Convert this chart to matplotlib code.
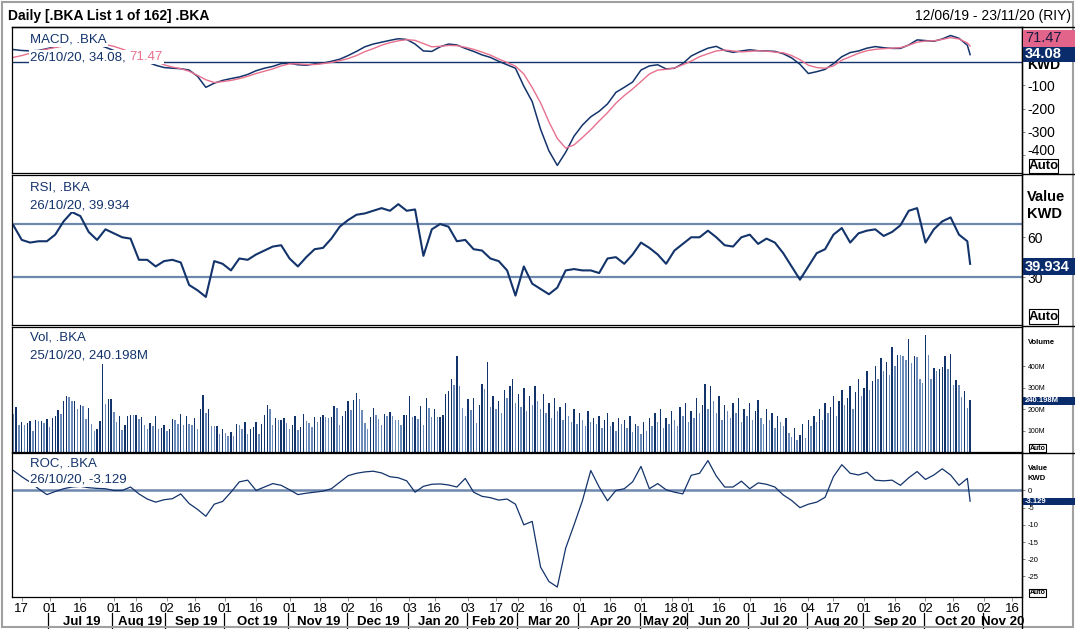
import numpy as np
import pandas as pd
import matplotlib
matplotlib.use("Agg")
import matplotlib.pyplot as plt
import matplotlib.transforms as mtrans
from matplotlib.patches import Rectangle
from matplotlib.lines import Line2D

plt.rcParams["font.family"] = ["Liberation Sans", "DejaVu Sans"]
plt.rcParams["axes.unicode_minus"] = False

# trading calendar (vendor dates, Mon-Fri) with market holidays
holidays = ["2019-08-13", "2019-08-14", "2019-08-15", "2020-01-01", "2020-01-02",
            "2020-02-26", "2020-02-27", "2020-05-25", "2020-05-26", "2020-05-27",
            "2020-05-28", "2020-07-30", "2020-07-31", "2020-08-03", "2020-10-01"]
days = pd.bdate_range("2019-06-12", "2020-11-30", freq="C", holidays=holidays)

# MACD / signal, RSI, ROC sampled every 3 trading days (+ last day)
macd = [56, 52, 50, 52, 60, 68, 75, 82, 86, 86, 78, 66, 52, 38, 24, 12, 2, -12, -22, -25,
        -27, -33, -60, -108, -90, -78, -70, -63, -52, -36, -25, -17, -5, -3, -10, -12, -6, -3, 5, 14,
        30, 48, 68, 80, 88, 96, 103, 100, 80, 50, 48, 68, 80, 76, 61, 48, 33, 22, 5, -10,
        -25, -103, -170, -290, -384, -447, -390, -320, -272, -236, -212, -180, -130, -108, -85, -33, -15, -10, -28, -25,
        -5, 28, 46, 62, 70, 52, 44, 50, 55, 51, 50, 48, 38, 20, -8, -48, -40, -30, -5, 25,
        43, 50, 62, 69, 64, 61, 61, 76, 98, 95, 92, 102, 117, 105, 75, 34.08]
signal = [22, 30, 40, 50, 58, 65, 71, 76, 80, 82, 82, 78, 70, 58, 45, 30, 18, 5, -10, -20,
          -27, -38, -56, -75, -87, -83, -78, -70, -60, -48, -38, -28, -15, -6, -6, -9, -9, -5, 0, 8,
          17, 30, 47, 60, 75, 86, 94, 99, 96, 82, 68, 70, 74, 73, 66, 57, 45, 32, 15, 0,
          -16, -50, -109, -175, -258, -330, -372, -358, -326, -292, -254, -218, -177, -144, -115, -83, -50, -33, -30, -24,
          -10, 6, 25, 38, 50, 54, 50, 46, 48, 51, 49, 45, 42, 30, 12, -12, -22, -25, -15, 10,
          25, 40, 51, 57, 60, 62, 64, 75, 88, 93, 94, 100, 108, 102, 85, 71.47]
rsi = [69, 58, 56, 57, 57, 62, 72, 79, 76, 64, 58, 66, 63, 60, 59, 43, 43, 38, 42, 43,
       41, 24, 20, 15, 42, 40, 35, 44, 43, 47, 50, 53, 54, 44, 38, 45, 51, 52, 59, 68,
       73, 77, 78, 80, 82, 80, 85, 80, 81, 46, 66, 70, 68, 57, 58, 51, 50, 44, 42, 35,
       16, 38, 25, 21, 17, 22, 35, 36, 35, 35, 33, 44, 45, 40, 47, 56, 52, 47, 40, 50,
       55, 60, 60, 65, 60, 54, 53, 60, 62, 55, 59, 56, 48, 38, 28, 38, 48, 51, 62, 67,
       56, 63, 65, 66, 61, 64, 69, 80, 82, 56, 66, 72, 75, 62, 57, 39.934]
roc = [5.8, 4.0, 2.4, 0.5, -1.2, -0.3, 0.5, 1.0, 1.2, 0.8, 0.6, 0.5, 0.0, 0.0, 1.0, -1.0, -2.5, -3.4, -2.7, -2.4,
       -1.0, -3.8, -5.5, -7.5, -4.0, -3.2, -0.5, 2.5, 3.0, 0.0, 1.0, 2.0, 1.5, 0.2, -1.2, -0.8, -0.5, -0.2, 0.5, 2.4,
       4.3, 5.0, 5.4, 5.6, 5.1, 4.0, 3.7, 2.8, -0.5, 1.2, 1.8, 1.9, 1.6, 1.0, 3.5, -0.5, -1.7, -2.1, -2.8, -2.5,
       -4.0, -10.0, -9.0, -22.3, -26.5, -28.1, -16.8, -10.0, -3.0, 5.8, 1.0, -3.0, 0.0, 0.5, 2.5, 7.0, 0.5, 2.0, 0.2, -0.5,
       -1.0, 4.4, 5.0, 8.7, 4.2, 1.0, 1.0, 2.7, 0.5, 2.2, 1.8, 1.0, -1.3, -2.9, -5.0, -4.0, -3.4, -2.0, 4.0, 7.5,
       5.0, 4.5, 5.3, 3.0, 2.8, 3.0, 1.5, 3.7, 5.5, 3.2, 4.5, 6.3, 4.5, 1.5, 3.5, -3.129]

# daily volume, millions
volume = [179, 210, 125, 140, 125, 135, 143, 97, 148, 145, 146, 137, 156, 117, 159, 168, 195, 179, 237, 260,
          257, 237, 238, 202, 221, 215, 153, 206, 132, 97, 109, 143, 413, 223, 249, 249, 187, 140, 168, 101,
          125, 168, 174, 171, 174, 156, 164, 125, 109, 135, 120, 168, 109, 112, 125, 97, 109, 156, 148, 129,
          179, 125, 168, 129, 125, 159, 109, 199, 265, 182, 202, 121, 120, 120, 84, 106, 90, 73, 93, 73,
          132, 128, 109, 140, 86, 109, 117, 140, 86, 129, 171, 218, 202, 128, 159, 148, 148, 159, 135, 109,
          125, 168, 101, 117, 179, 143, 137, 117, 164, 140, 164, 174, 164, 159, 164, 213, 206, 125, 168, 190,
          238, 195, 241, 276, 246, 195, 137, 109, 164, 206, 171, 156, 125, 179, 168, 187, 168, 151, 148, 125,
          171, 171, 260, 164, 168, 153, 215, 128, 252, 206, 164, 202, 164, 164, 171, 273, 283, 343, 312, 447,
          308, 206, 168, 249, 195, 252, 137, 218, 319, 293, 421, 210,
          260, 200, 240, 180, 290, 250, 310,
          340, 230, 270, 210, 300, 190, 260, 220, 310, 240,
          200, 270, 180, 230, 160, 250, 190, 210, 150, 230,
          170, 140, 200, 130, 180, 150, 120, 190, 140, 160,
          130, 170, 110, 150, 180, 120, 140, 100, 160, 130,
          150, 110, 170, 95, 130, 120, 85, 140, 100, 160,
          120, 180, 140, 200, 110, 160, 130, 190, 150, 120,
          210, 170, 230, 140, 190, 160, 250, 180, 220, 320,
          200, 310, 240, 180, 260, 150, 220, 190, 160, 230,
          180, 250, 140, 200, 170, 230, 150, 190, 245, 160,
          130, 200, 150, 180, 110, 170, 140, 120, 160, 90,
          70, 110, 55, 80, 130, 65, 150, 120, 170, 140,
          200, 150, 230, 180, 210, 260, 170, 240, 290, 220,
          250, 310, 200, 280, 340, 260, 300, 380, 290, 330,
          400, 340, 440, 380, 420, 360, 490, 400, 455,
          452, 449, 431, 526, 416, 449, 444, 340, 324, 548, 452, 343, 393, 377, 386, 397, 447, 389, 460, 312,
          335, 315, 257, 283, 206, 241]

NAVY = "#13336b"
PINK = "#e8708e"
REF = "#6d87ad"
BOX = "#0b2c6b"

n = len(volume)
x_vol = np.arange(n)
x_line = np.append(np.arange(0, n - 1, 3), n - 1)

W, H = 1075, 629
fig = plt.figure(figsize=(W / 100, H / 100), dpi=100)


def fx(px):
    return px / W


def fy(py):
    return 1 - py / H


x_lo = -0.5
x_hi = days.searchsorted(pd.Timestamp("2020-11-16")) + 3.6


def panel(top, bottom):
    ax = fig.add_axes([fx(12), fy(bottom), fx(1022) - fx(12), (bottom - top) / H])
    ax.set_xlim(x_lo, x_hi)
    ax.set_xticks([])
    ax.yaxis.tick_right()
    ax.tick_params(axis="y", direction="out", length=2.5, width=0.6, colors="black", pad=1.5)
    ax.tick_params(axis="y", color="#707070")
    for s in ax.spines.values():
        s.set_color("black")
        s.set_linewidth(0.9)
    return ax


# MACD
ax1 = panel(27, 173)
ax1.axhline(0, color=NAVY, lw=1.0)
ax1.plot(x_line, macd, color=NAVY, lw=1.1)
ax1.plot(x_line, signal, color=PINK, lw=1.0)
ax1.set_ylim(-480, 154)
ax1.set_yticks([-400, -300, -200, -100])
ax1.tick_params(axis="y", labelsize=10)
lbl = ax1.get_yticklabels()[0]
lbl.set_transform(lbl.get_transform() + mtrans.ScaledTranslation(0, 4 / 72, fig.dpi_scale_trans))

# RSI
ax2 = panel(175, 325)
ax2.axhline(70, color=REF, lw=1.6)
ax2.axhline(30, color=REF, lw=1.6)
ax2.plot(x_line, rsi, color=NAVY, lw=1.5)
ax2.set_ylim(-6.2, 107)
ax2.set_yticks([30, 60])
ax2.tick_params(axis="y", labelsize=10)

# Volume
ax3 = panel(327, 452)
vcol = [NAVY if i > 0 and volume[i] >= volume[i - 1] else "#6b8bbb" for i in range(n)]
ax3.bar(x_vol, volume, width=0.5, color=vcol, linewidth=0)
ax3.set_ylim(0, 584)
ax3.set_yticks([100, 200, 300, 400])
ax3.set_yticklabels(["100M", "200M", "300M", "400M"])
ax3.tick_params(axis="y", labelsize=5)

# ROC
ax4 = panel(453, 597)
ax4.axhline(0, color=REF, lw=1.8)
ax4.plot(x_line, roc, color=NAVY, lw=0.9)
ax4.set_ylim(-31, 10.9)
ax4.set_yticks([0, -5, -10, -15, -20, -25])
ax4.tick_params(axis="y", labelsize=5.5)

# date axis: ticks on the 1st and 16th, month separators
months = pd.date_range("2019-06-01", "2020-11-01", freq="MS")
tick_pos, tick_lbl = [], []
for m in months:
    for d in (1, 16):
        t = m + pd.Timedelta(days=d - 1)
        if t < days[0]:
            continue
        i = days.searchsorted(t)
        if i <= x_hi:
            tick_pos.append(i)
            tick_lbl.append(days[i].strftime("%d"))
ax4.set_xticks(tick_pos)
ax4.set_xticklabels(tick_lbl, fontsize=9.5)
ax4.tick_params(axis="x", direction="out", length=3, width=0.6, color="#808080", pad=1.5)

trans = mtrans.blended_transform_factory(ax4.transData, ax4.transAxes)
seps = [days.searchsorted(m) for m in months[1:]]
for k, s in enumerate(seps):
    ax4.plot([s - 0.5, s - 0.5], [-0.111, -0.23], transform=trans, color="black", lw=0.9, clip_on=False)
    nxt = seps[k + 1] if k + 1 < len(seps) else x_hi
    ax4.text((s + nxt) / 2, -0.1736, months[k + 1].strftime("%b %y"), transform=trans,
             ha="center", va="center", fontsize=9.5, fontweight="bold")

# frame and separators
fig.add_artist(Rectangle((fx(2), fy(627)), fx(1071), (625) / H, transform=fig.transFigure,
                         fill=False, ec="#a0a0a0", lw=1.5))
for y in (26.5, 174, 326, 452.5):
    fig.add_artist(Line2D([fx(12 if y == 26.5 else 1022), fx(1075)], [fy(y), fy(y)], color="black", lw=1))
fig.add_artist(Line2D([fx(1022), fx(1022)], [fy(27), fy(629)], color="black", lw=1))

# header
fig.text(fx(8), fy(16), "Daily [.BKA List 1 of 162] .BKA", fontsize=10, fontweight="bold", va="center")
fig.text(fx(1071), fy(16), "12/06/19 - 23/11/20 (RIY)", fontsize=10, ha="right", va="center")

# panel legends
renderer = fig.canvas.get_renderer()
wbox = dict(fc="white", ec="none", pad=0.8)


def legend(y1, y2, name, line2, extra=None):
    fig.text(fx(30), fy(y1), name, fontsize=9.5, color=NAVY, va="center", bbox=wbox)
    t = fig.text(fx(30), fy(y2), line2, fontsize=9.5, color=NAVY, va="center", bbox=wbox)
    if extra:
        bb = t.get_window_extent(renderer)
        fig.text(bb.x1 / W, fy(y2), extra, fontsize=9.5, color=PINK, va="center", bbox=wbox)


legend(40, 57, "MACD, .BKA", "26/10/20, 34.08, ", "71.47")
legend(188, 205, "RSI, .BKA", "26/10/20, 39.934")
legend(338, 355, "Vol, .BKA", "25/10/20, 240.198M")
legend(464, 480, "ROC, .BKA", "26/10/20, -3.129")


def value_box(y0, y1, text, fc, tc, size, bold=True):
    fig.add_artist(Rectangle((fx(1023), fy(y1)), fx(1075) - fx(1023), (y1 - y0) / H,
                             transform=fig.transFigure, fc=fc, ec="none", zorder=5))
    fig.text(fx(1025), fy((y0 + y1) / 2), text, fontsize=size, color=tc, va="center",
             fontweight="bold" if bold else "normal", zorder=6)


def auto_box(x0, x1, y0, y1, size):
    fig.add_artist(Rectangle((fx(x0), fy(y1)), fx(x1) - fx(x0), (y1 - y0) / H,
                             transform=fig.transFigure, fc="white", ec="black", lw=0.8, zorder=5))
    fig.text(fx((x0 + x1) / 2), fy((y0 + y1) / 2), "Auto", fontsize=size, fontweight="bold",
             ha="center", va="center", zorder=6)


# MACD column ("KWD" header sits partly under the value boxes)
fig.text(fx(1027), fy(65), "KWD", fontsize=10, fontweight="bold", va="center")
value_box(30, 47, "71.47", "#e2648a", "#1a1a40", 10.5, bold=False)
value_box(47, 62, "34.08", BOX, "white", 10.5)
auto_box(1029, 1058, 159, 173, 9.5)

# RSI column
fig.text(fx(1027), fy(197), "Value", fontsize=10.5, fontweight="bold", va="center")
fig.text(fx(1027), fy(214), "KWD", fontsize=10.5, fontweight="bold", va="center")
value_box(258, 275, "39.934", BOX, "white", 10.5)
auto_box(1029, 1058, 309, 324, 9.5)

# Volume column
fig.text(fx(1028), fy(343), "Volume", fontsize=5.5, fontweight="bold", va="center")
value_box(397, 405, "240.198M", BOX, "white", 5.5)
auto_box(1029, 1046, 444, 452, 5)

# ROC column
fig.text(fx(1028), fy(468), "Value", fontsize=5.5, fontweight="bold", va="center")
fig.text(fx(1028), fy(478), "KWD", fontsize=5.5, fontweight="bold", va="center")
value_box(498, 505, "-3.129", BOX, "white", 5.5)
auto_box(1029, 1046, 589, 597, 5)

fig.savefig("out.png", dpi=100)
